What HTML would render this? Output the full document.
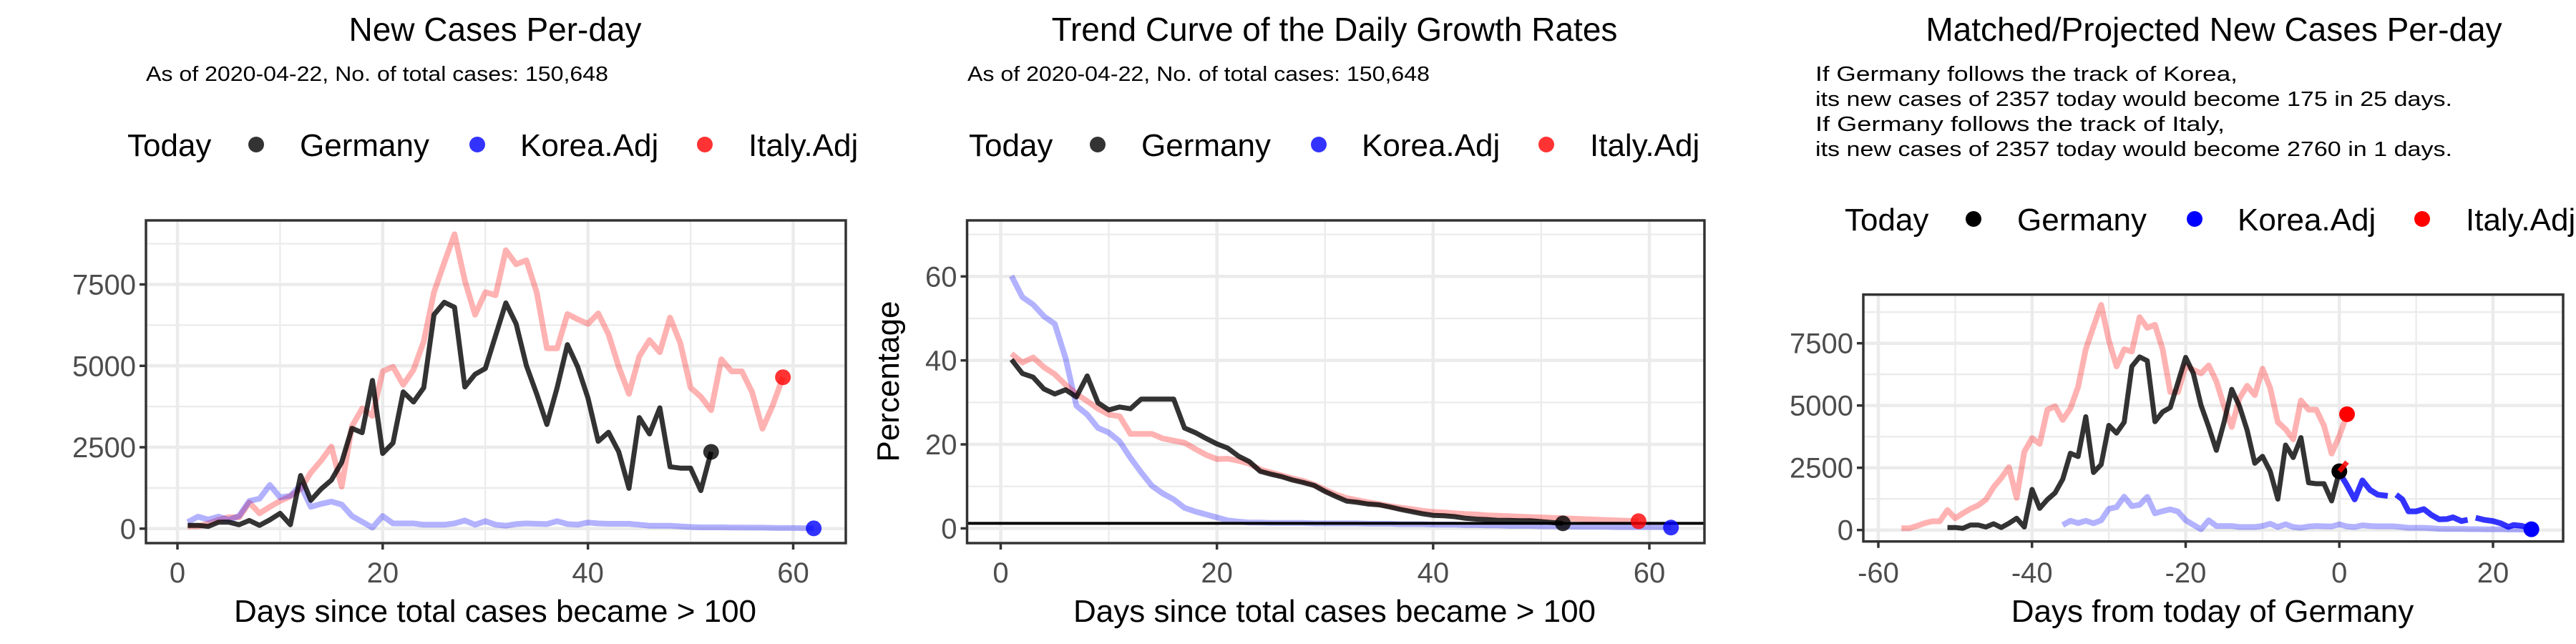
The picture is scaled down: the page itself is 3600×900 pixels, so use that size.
<!DOCTYPE html>
<html><head><meta charset="utf-8">
<style>
html,body{margin:0;padding:0;background:#fff;}
svg{display:block;font-family:"Liberation Sans",Arial,sans-serif;}
</style></head>
<body>
<svg id="chart" width="3600" height="900" viewBox="0 0 3600 900" xmlns="http://www.w3.org/2000/svg">
<rect x="0" y="0" width="3600" height="900" fill="#fff"/>
</svg>
<script>
// ---- data ----
const germanyCases = [100,100,70,200,200,120,250,100,270,470,120,1630,870,1220,1490,2040,3080,2950,4550,2310,2630,4200,3890,4330,6570,6950,6800,4350,4740,4920,5930,6930,6290,5010,4140,3200,4330,5650,4970,4010,2680,2960,2360,1240,3410,2910,3710,1900,1860,1860,1170,2357];
const italyCases = [70,70,160,270,350,350,800,470,670,850,990,1220,1720,2090,2520,1290,3140,3690,3460,4830,4970,4420,4880,5750,7260,8170,9040,7620,6570,7260,7170,8550,8120,8240,7260,5540,5540,6590,6430,6290,6610,5970,4970,4140,5290,5790,5420,6480,5700,4330,4050,3640,5200,4830,4830,4190,3070,3780,4650];
const koreaCases = [200,370,280,370,270,390,850,920,1340,960,1010,1330,670,760,830,740,390,210,30,390,160,160,160,120,120,120,160,250,120,230,120,90,140,160,150,140,230,140,120,190,160,150,150,150,120,90,90,90,70,50,40,40,40,35,35,30,30,25,20,20,15,10];
const germanyGrowth = [40.2,36.9,36,33.2,32,33,31.3,36.3,29.9,28.2,28.9,28.5,30.8,30.8,30.8,30.8,23.9,22.8,21.4,20.1,19.1,17.2,15.9,13.6,12.9,12.3,11.5,10.9,10.2,8.8,7.6,6.5,6.2,5.8,5.6,5.1,4.5,4.0,3.5,3.1,3.0,2.8,2.4,2.2,2.1,1.9,1.9,1.8,1.8,1.6,1.4,1.2];
const italyGrowth = [41.6,39.5,40.7,38.4,36.7,34.2,32,30.3,28.5,27.1,26.7,22.5,22.5,22.5,21.4,20.9,20.4,18.9,17.5,16.5,16.6,16.1,15.4,14,13.3,12.6,11.9,11.3,10.4,9.2,8.1,7.2,6.7,6.2,5.8,5.3,4.9,4.6,4.2,3.9,3.8,3.6,3.4,3.3,3.1,3.0,2.9,2.8,2.7,2.6,2.5,2.4,2.3,2.2,2.1,2.0,1.9,1.8,1.7];
const koreaGrowth = [60.1,55.1,53.3,50.5,48.7,40.5,29.2,27.1,23.9,22.8,20.7,16.8,13.3,10.1,8.3,6.9,4.9,4.0,3.3,2.6,1.9,1.6,1.4,1.4,1.3,1.3,1.3,1.3,1.2,1.2,1.2,1.2,1.2,1.1,1.1,1.1,1.0,1.0,1.0,0.9,0.9,0.9,0.8,0.8,0.7,0.7,0.6,0.6,0.6,0.5,0.5,0.5,0.4,0.4,0.4,0.4,0.3,0.3,0.3,0.3,0.3,0.2];
const growthRefLine = 1.2;
const germanyShift = -52, italyShift = -58, koreaShift = -37;
const projKoreaDays = [0,0.9,2,3,4,5,6.3,null,7.4,8.2,9,10,11,12,13,14,14.8,15.9,16.7,null,17.75,18.8,20,21,22,22.7,23.7,24.5];
const projKoreaVals = [2300,1850,1230,1990,1610,1420,1370,null,1420,1230,750,750,840,600,430,440,510,360,410,null,490,410,360,270,125,200,170,100];
const projKoreaEnd = [25, 30];
const projItalyDays = [0, 1];
const projItalyVals = [2357, 2730];
const casesTicks = [0,2500,5000,7500];
const casesMinor = [1250,3750,6250,8750];
const growthTicks = [0,20,40,60];
const growthMinor = [10,30,50,70];
const dayTicks = [0,20,40,60];
const dayMinor = [10,30,50];
const relTicks = [-60,-40,-20,0,20];
const relMinor = [-50,-30,-10,10];

// ---- helpers ----
const NS = "http://www.w3.org/2000/svg";
const svg = document.getElementById('chart');
function mk(tag, attrs, parent, text){
  const e = document.createElementNS(NS, tag);
  for (const k in attrs) e.setAttribute(k, attrs[k]);
  if (text !== undefined) e.textContent = text;
  (parent || svg).appendChild(e);
  return e;
}
function lin(d0, d1, r0, r1){ return v => r0 + (v - d0) * (r1 - r0) / (d1 - d0); }
function pathFrom(xs, ys, sx, sy){
  let d = '', pen = false;
  for (let i = 0; i < xs.length; i++){
    if (xs[i] === null || ys[i] === null){ pen = false; continue; }
    d += (pen ? 'L' : 'M') + sx(xs[i]).toFixed(1) + ',' + sy(ys[i]).toFixed(1);
    pen = true;
  }
  return d;
}
function days(n, shift){ const a = []; for (let i = 1; i <= n; i++) a.push(i + shift); return a; }

function panel(cfg){
  const g = mk('g', {});
  
  
  const {L,R,T,B,sx,sy} = cfg;
  const clipId = cfg.name + '-clip';
  const cp = mk('clipPath', {id: clipId}, g);
  mk('rect', {x:L, y:T, width:R-L, height:B-T}, cp);
  const grid = mk('g', {'clip-path':'url(#'+clipId+')'}, g);
  
  
  cfg.yMinor.forEach(v => mk('line', {x1:L, x2:R, y1:sy(v), y2:sy(v), stroke:'#ebebeb', 'stroke-width':2.3}, grid));
  cfg.xMinor.forEach(v => mk('line', {y1:T, y2:B, x1:sx(v), x2:sx(v), stroke:'#ebebeb', 'stroke-width':2.3}, grid));
  cfg.yTicks.forEach(v => mk('line', {x1:L, x2:R, y1:sy(v), y2:sy(v), stroke:'#ebebeb', 'stroke-width':4.5}, grid));
  cfg.xTicks.forEach(v => mk('line', {y1:T, y2:B, x1:sx(v), x2:sx(v), stroke:'#ebebeb', 'stroke-width':4.5}, grid));
  const marks = mk('g', {'clip-path':'url(#'+clipId+')'}, g);
  
  
  cfg.draw(marks);
  const border = mk('rect', {x:L, y:T, width:R-L, height:B-T, fill:'none', stroke:'#333', 'stroke-width':3.5}, g);
  
  
  cfg.yTicks.forEach(v => {
    mk('line', {x1:L-9, x2:L, y1:sy(v), y2:sy(v), stroke:'#333', 'stroke-width':3.5}, g);
    const t = mk('text', {x:L-14, y:sy(v)+14, 'text-anchor':'end', 'font-size':40, fill:'#4d4d4d'}, g, String(v));
    
    
  });
  cfg.xTicks.forEach(v => {
    mk('line', {x1:sx(v), x2:sx(v), y1:B, y2:B+9, stroke:'#333', 'stroke-width':3.5}, g);
    const t = mk('text', {x:sx(v), y:814, 'text-anchor':'middle', 'font-size':40, fill:'#4d4d4d'}, g, String(v));
    
    
  });
  const xt = mk('text', {x:cfg.xTitleX, y:869, 'text-anchor':'middle', 'font-size':44, fill:'#000'}, g, cfg.xTitle);
  
  
  const tt = mk('text', {x:cfg.titleX, y:57, 'text-anchor':'middle', 'font-size':46, fill:'#000'}, g, cfg.title);
  
  
  cfg.sub.forEach((s, i) => {
    const st = mk('text', {x:cfg.subX, y:113 + i*35, 'font-size':29, fill:'#000', textLength:s[1], lengthAdjust:'spacingAndGlyphs'}, g, s[0]);
    
    
  });
  const lg = mk('g', {}, g);
  
  
  const lx = cfg.legX, ly = cfg.legY;
  const lt = mk('text', {x:lx, y:ly, 'font-size':44, fill:'#000'}, lg, 'Today');
  
  
  const entries = [['Germany', cfg.legColors[0], 180, 241], ['Korea.Adj', cfg.legColors[1], 489, 549], ['Italy.Adj', cfg.legColors[2], 807, 868]];
  entries.forEach(en => {
    const c = mk('circle', {cx:lx+en[2], cy:ly-16, r:11, fill:en[1]}, lg);
    
    
    const t = mk('text', {x:lx+en[3], y:ly, 'font-size':44, fill:'#000'}, lg, en[0]);
    
    
  });
}

const PINK = 'rgba(255,0,0,0.3)', LBLUE = 'rgba(0,0,255,0.3)', DARK = 'rgba(0,0,0,0.8)';
function series(parent, xs, ys, sx, sy, color, w, name){
  const p = mk('path', {d:pathFrom(xs, ys, sx, sy), fill:'none', stroke:color, 'stroke-width':w, 'stroke-linejoin':'round'}, parent);
  
  
}
function pt(parent, x, y, color, name){
  const c = mk('circle', {cx:x, cy:y, r:11, fill:color}, parent);
  
  
}

// ---- panel 1 ----
{
  const sx = lin(0, 60, 248, 1108.5), sy = lin(0, 7500, 738.8, 397.5);
  panel({name:'new-cases-panel', L:204, R:1182, T:308, B:759, sx, sy,
    yTicks:casesTicks, yMinor:casesMinor, xTicks:dayTicks, xMinor:dayMinor,
    xTitle:'Days since total cases became > 100', xTitleX:692,
    title:'New Cases Per-day', titleX:692,
    sub:[['As of 2020-04-22, No. of total cases: 150,648', 646]], subX:204,
    legX:178, legY:218, legColors:['#333','rgba(0,0,255,0.8)','rgba(255,0,0,0.8)'],
    draw:(g)=>{
      series(g, days(italyCases.length,0), italyCases, sx, sy, PINK, 8, 'italy-line');
      series(g, days(koreaCases.length,0), koreaCases, sx, sy, LBLUE, 8, 'korea-line');
      series(g, days(germanyCases.length,0), germanyCases, sx, sy, DARK, 7, 'germany-line');
      pt(g, sx(germanyCases.length), sy(germanyCases[germanyCases.length-1]), 'rgba(0,0,0,0.8)', 'germany-today-point');
      pt(g, sx(italyCases.length), sy(italyCases[italyCases.length-1]), 'rgba(255,0,0,0.8)', 'italy-today-point');
      pt(g, sx(koreaCases.length), sy(koreaCases[koreaCases.length-1]), 'rgba(0,0,255,0.8)', 'korea-today-point');
    }});
}
// ---- panel 2 ----
{
  const sx = lin(0, 60, 1398.5, 2305), sy = lin(0, 60, 738.4, 386.3);
  panel({name:'growth-rate-panel', L:1351.5, R:2382, T:308, B:759, sx, sy,
    yTicks:growthTicks, yMinor:growthMinor, xTicks:dayTicks, xMinor:dayMinor,
    xTitle:'Days since total cases became > 100', xTitleX:1865,
    title:'Trend Curve of the Daily Growth Rates', titleX:1865,
    sub:[['As of 2020-04-22, No. of total cases: 150,648', 646]], subX:1352,
    legX:1354, legY:218, legColors:['#333','rgba(0,0,255,0.8)','rgba(255,0,0,0.8)'],
    draw:(g)=>{
      series(g, days(koreaGrowth.length,0), koreaGrowth, sx, sy, LBLUE, 8, 'korea-growth-line');
      series(g, days(italyGrowth.length,0), italyGrowth, sx, sy, PINK, 8, 'italy-growth-line');
      series(g, days(germanyGrowth.length,0), germanyGrowth, sx, sy, DARK, 7, 'germany-growth-line');
      const hl = mk('line', {x1:1351.5, x2:2382, y1:sy(growthRefLine), y2:sy(growthRefLine), stroke:'#000', 'stroke-width':4}, g);
      
      
      pt(g, sx(germanyGrowth.length), sy(germanyGrowth[germanyGrowth.length-1]), 'rgba(0,0,0,0.8)', 'germany-today-point');
      pt(g, sx(italyGrowth.length), sy(italyGrowth[italyGrowth.length-1]), 'rgba(255,0,0,0.8)', 'italy-today-point');
      pt(g, sx(koreaGrowth.length), sy(koreaGrowth[koreaGrowth.length-1]), 'rgba(0,0,255,0.8)', 'korea-today-point');
    }});
  const yl = mk('text', {x:0, y:0, 'text-anchor':'middle', 'font-size':44, fill:'#000', transform:'translate(1256,533) rotate(-90)'}, svg, 'Percentage');
  
  
}
// ---- panel 3 ----
{
  const sx = lin(-60, 20, 2625, 3484), sy = lin(0, 7500, 740.7, 479.7);
  panel({name:'projected-panel', L:2604, R:3582, T:411.7, B:756.7, sx, sy,
    yTicks:casesTicks, yMinor:casesMinor, xTicks:relTicks, xMinor:relMinor,
    xTitle:'Days from today of Germany', xTitleX:3092,
    title:'Matched/Projected New Cases Per-day', titleX:3094,
    sub:[['If Germany follows the track of Korea,', 590],
         ['its new cases of 2357 today would become 175 in 25 days.', 890],
         ['If Germany follows the track of Italy,', 572],
         ['its new cases of 2357 today would become 2760 in 1 days.', 890]], subX:2537,
    legX:2578, legY:322, legColors:['#000','#00f','#f00'],
    draw:(g)=>{
      series(g, days(italyCases.length,italyShift), italyCases, sx, sy, PINK, 8, 'italy-matched-line');
      series(g, days(koreaCases.length,koreaShift), koreaCases, sx, sy, LBLUE, 8, 'korea-matched-line');
      series(g, days(germanyCases.length,germanyShift), germanyCases, sx, sy, DARK, 7, 'germany-line');
      series(g, projKoreaDays, projKoreaVals, sx, sy, 'rgba(0,0,255,0.8)', 8, 'korea-projection-line');
      pt(g, sx(0), sy(germanyCases[germanyCases.length-1]), '#000', 'germany-today-point');
      series(g, projItalyDays, projItalyVals, sx, sy, 'rgba(255,0,0,0.85)', 7, 'italy-projection-line');
      pt(g, sx(italyCases.length+italyShift), sy(italyCases[italyCases.length-1]), '#f00', 'italy-point');
      pt(g, sx(projKoreaEnd[0]), sy(projKoreaEnd[1]), '#00f', 'korea-projected-point');
    }});
}
</script>
</body></html>
